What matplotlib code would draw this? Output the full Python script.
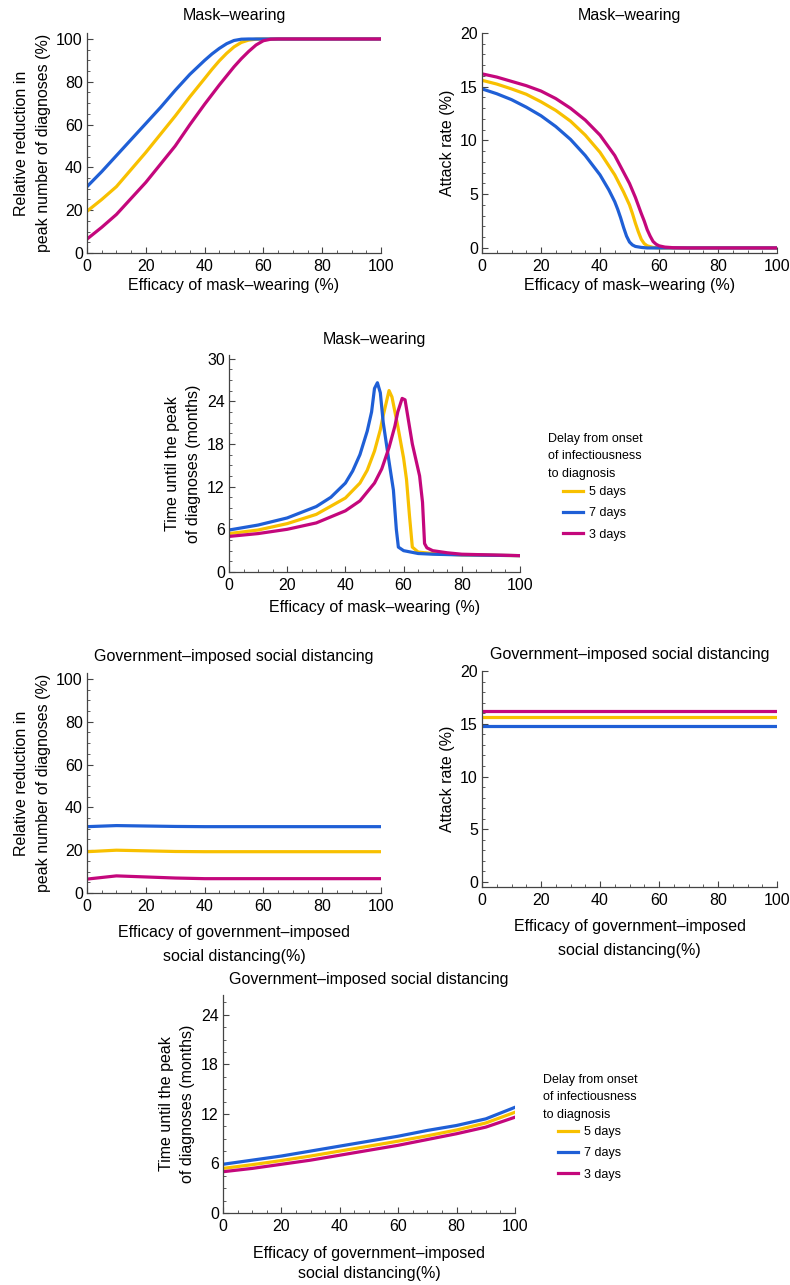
import numpy as np
import matplotlib
matplotlib.use("Agg")
import matplotlib.pyplot as plt
from matplotlib.ticker import MultipleLocator
from matplotlib.lines import Line2D

plt.rcParams['font.family'] = ['Liberation Sans', 'DejaVu Sans']

# colours for the three diagnosis delays
c5, c7, c3 = "#F8C000", "#1F5FD6", "#C4077C"

# mask-wearing: relative reduction in peak number of diagnoses (%)
red_x7 = [0, 5, 10, 15, 20, 25, 30, 35, 40, 42.5, 45, 47.5, 50, 52.5, 55, 100]
red_y7 = [31, 38, 45.5, 53, 60.5, 68, 76, 83.5, 90, 93, 95.6, 97.8, 99.3, 99.9, 100, 100]
red_x5 = [0, 5, 10, 15, 20, 25, 30, 35, 40, 42.5, 45, 47.5, 50, 52.5, 55, 57.5, 60, 100]
red_y5 = [19.5, 25, 31, 39, 47, 55.5, 64, 73, 81.5, 85.8, 89.8, 93.3, 96.3, 98.4, 99.5, 99.9, 100, 100]
red_x3 = [0, 5, 10, 15, 20, 25, 30, 35, 40, 45, 50, 52.5, 55, 57.5, 60, 62.5, 65, 100]
red_y3 = [6.5, 12, 18, 25.5, 33, 41.5, 50, 60, 69.5, 78.5, 87, 90.8, 94.2, 97.2, 99.2, 99.9, 100, 100]

# mask-wearing: attack rate (%)
att_x7 = [0, 5, 10, 15, 20, 25, 30, 35, 40, 43, 45, 46, 47, 48, 49, 50, 51, 52, 54, 56, 100]
att_y7 = [14.8, 14.35, 13.8, 13.1, 12.3, 11.3, 10.1, 8.6, 6.8, 5.4, 4.3, 3.6, 2.8, 1.9, 1.1,
          0.55, 0.28, 0.14, 0.05, 0, 0]
att_x5 = [0, 5, 10, 15, 20, 25, 30, 35, 40, 45, 48, 50, 51, 52, 53, 54, 55, 56, 58, 60, 100]
att_y5 = [15.6, 15.25, 14.8, 14.3, 13.6, 12.8, 11.8, 10.5, 8.9, 6.8, 5.2, 4.0, 3.2, 2.3, 1.5,
          0.8, 0.4, 0.2, 0.05, 0, 0]
att_x3 = [0, 5, 10, 15, 20, 25, 30, 35, 40, 45, 50, 52, 54, 55, 56, 57, 58, 59, 60, 62, 65, 70, 100]
att_y3 = [16.2, 15.9, 15.5, 15.1, 14.6, 13.9, 13.0, 11.9, 10.5, 8.6, 6.0, 4.7, 3.2, 2.5, 1.7,
          1.1, 0.6, 0.35, 0.2, 0.08, 0.02, 0, 0]

# mask-wearing: time until the peak of diagnoses (months)
tp_x7 = [0, 10, 20, 30, 35, 40, 42.5, 45, 47.5, 49, 50, 51, 52, 53, 55, 56.5, 57.5, 58.2, 60, 65, 70, 80, 100]
tp_y7 = [5.9, 6.6, 7.6, 9.2, 10.5, 12.5, 14.2, 16.5, 19.8, 22.5, 25.8, 26.6, 25.2, 21, 15.5, 11.5,
         6, 3.5, 3.0, 2.6, 2.5, 2.4, 2.3]
tp_x5 = [0, 10, 20, 30, 40, 45, 47.5, 50, 52, 53, 55, 56, 58, 60, 61, 62, 63, 65, 70, 80, 100]
tp_y5 = [5.4, 5.9, 6.8, 8.1, 10.4, 12.5, 14.3, 17, 20, 22, 25.5, 24.6, 20.5, 16, 13, 8, 3.5,
         2.8, 2.6, 2.4, 2.3]
tp_x3 = [0, 10, 20, 30, 40, 45, 50, 52.5, 55, 57, 58, 59.5, 60.5, 63, 65.5, 66.5, 67.2, 68, 70, 75, 80, 100]
tp_y3 = [5.0, 5.4, 6.0, 6.9, 8.6, 10.0, 12.5, 14.5, 17.5, 20.5, 22.5, 24.4, 24.2, 18, 13.5, 9.8,
         4, 3.4, 3.0, 2.7, 2.5, 2.3]

# government-imposed social distancing
sd_x = [0, 10, 20, 30, 40, 50, 60, 70, 80, 90, 100]
sd_red7 = [31, 31.5, 31.3, 31.1, 31, 31, 31, 31, 31, 31, 31]
sd_red5 = [19.3, 20, 19.7, 19.4, 19.3, 19.3, 19.3, 19.3, 19.3, 19.3, 19.3]
sd_red3 = [6.5, 8, 7.5, 7, 6.7, 6.7, 6.7, 6.7, 6.7, 6.7, 6.7]
sd_att7 = [14.8] * 11
sd_att5 = [15.6] * 11
sd_att3 = [16.2] * 11
sd_tp7 = [5.9, 6.4, 6.9, 7.5, 8.1, 8.7, 9.3, 10.0, 10.6, 11.4, 12.8]
sd_tp5 = [5.4, 5.85, 6.35, 6.9, 7.5, 8.1, 8.7, 9.35, 10.05, 10.9, 12.2]
sd_tp3 = [5.0, 5.4, 5.9, 6.4, 7.0, 7.6, 8.2, 8.9, 9.6, 10.4, 11.6]

legend_labels = ["5 days", "7 days", "3 days"]
legend_title = "Delay from onset\nof infectiousness\nto diagnosis"

W, H = 790, 1285
fig = plt.figure(figsize=(W / 100, H / 100), dpi=100)
fs = 11.5


def make_ax(left, right, bottom, top):
    ax = fig.add_axes([left / W, 1 - bottom / H, (right - left) / W, (bottom - top) / H])
    for s in ("top", "right"):
        ax.spines[s].set_visible(False)
    for s in ("left", "bottom"):
        ax.spines[s].set_color("#444444")
        ax.spines[s].set_linewidth(0.9)
    ax.tick_params(which="both", direction="in", colors="#444444", labelcolor="black",
                   labelsize=fs)
    ax.tick_params(axis="x", pad=4.5)
    ax.tick_params(axis="y", pad=3)
    ax.tick_params(which="major", length=4, width=0.8)
    ax.tick_params(which="minor", length=2, width=0.6)
    ax.set_xlim(0, 100)
    ax.xaxis.set_major_locator(MultipleLocator(20))
    ax.xaxis.set_minor_locator(MultipleLocator(5))
    return ax


lw = 2.3
mask_xlabel = "Efficacy of mask\u2013wearing (%)"
gov_xlabel = "Efficacy of government\u2013imposed\nsocial distancing(%)"
red_ylabel = "Relative reduction in\npeak number of diagnoses (%)"
tp_ylabel = "Time until the peak\nof diagnoses (months)"

# --- mask-wearing: relative reduction
ax1 = make_ax(87, 381, 253, 33)
ax1.plot(red_x5, red_y5, color=c5, lw=lw)
ax1.plot(red_x7, red_y7, color=c7, lw=lw)
ax1.plot(red_x3, red_y3, color=c3, lw=lw)
ax1.set_ylim(0, 102.8)
ax1.yaxis.set_major_locator(MultipleLocator(20))
ax1.yaxis.set_minor_locator(MultipleLocator(5))
ax1.set_title("Mask\u2013wearing", fontsize=fs, pad=9)
ax1.set_xlabel(mask_xlabel, fontsize=fs, labelpad=3)
ax1.set_ylabel(red_ylabel, fontsize=fs, labelpad=4, linespacing=1.55)

# --- mask-wearing: attack rate
ax2 = make_ax(482, 777, 253, 33)
ax2.plot(att_x5, att_y5, color=c5, lw=lw)
ax2.plot(att_x7, att_y7, color=c7, lw=lw)
ax2.plot(att_x3, att_y3, color=c3, lw=lw)
ax2.set_ylim(-0.47, 20)
ax2.yaxis.set_major_locator(MultipleLocator(5))
ax2.yaxis.set_minor_locator(MultipleLocator(1))
ax2.set_title("Mask\u2013wearing", fontsize=fs, pad=9)
ax2.set_xlabel(mask_xlabel, fontsize=fs, labelpad=3)
ax2.set_ylabel("Attack rate (%)", fontsize=fs, labelpad=4)

# --- mask-wearing: time until peak
ax3 = make_ax(229, 520, 572, 355)
ax3.plot(tp_x5, tp_y5, color=c5, lw=lw)
ax3.plot(tp_x7, tp_y7, color=c7, lw=lw)
ax3.plot(tp_x3, tp_y3, color=c3, lw=lw)
ax3.set_ylim(0, 30.5)
ax3.yaxis.set_major_locator(MultipleLocator(6))
ax3.yaxis.set_minor_locator(MultipleLocator(1.5))
ax3.set_title("Mask\u2013wearing", fontsize=fs, pad=8)
ax3.set_xlabel(mask_xlabel, fontsize=fs, labelpad=5)
ax3.set_ylabel(tp_ylabel, fontsize=fs, labelpad=4, linespacing=1.55)

# --- social distancing: relative reduction
ax4 = make_ax(87, 381, 893, 673)
ax4.plot(sd_x, sd_red5, color=c5, lw=lw)
ax4.plot(sd_x, sd_red7, color=c7, lw=lw)
ax4.plot(sd_x, sd_red3, color=c3, lw=lw)
ax4.set_ylim(0, 102.8)
ax4.yaxis.set_major_locator(MultipleLocator(20))
ax4.yaxis.set_minor_locator(MultipleLocator(5))
ax4.set_title("Government\u2013imposed social distancing", fontsize=fs, pad=9)
ax4.set_xlabel(gov_xlabel, fontsize=fs, labelpad=8, linespacing=1.7)
ax4.set_ylabel(red_ylabel, fontsize=fs, labelpad=4, linespacing=1.55)

# --- social distancing: attack rate
ax5 = make_ax(482, 777, 887, 671)
ax5.plot(sd_x, sd_att5, color=c5, lw=lw)
ax5.plot(sd_x, sd_att7, color=c7, lw=lw)
ax5.plot(sd_x, sd_att3, color=c3, lw=lw)
ax5.set_ylim(-0.47, 20)
ax5.yaxis.set_major_locator(MultipleLocator(5))
ax5.yaxis.set_minor_locator(MultipleLocator(1))
ax5.set_title("Government\u2013imposed social distancing", fontsize=fs, pad=9)
ax5.set_xlabel(gov_xlabel, fontsize=fs, labelpad=8, linespacing=1.7)
ax5.set_ylabel("Attack rate (%)", fontsize=fs, labelpad=4)

# --- social distancing: time until peak
ax6 = make_ax(223, 515, 1213, 995)
ax6.plot(sd_x, sd_tp5, color=c5, lw=lw)
ax6.plot(sd_x, sd_tp7, color=c7, lw=lw)
ax6.plot(sd_x, sd_tp3, color=c3, lw=lw)
ax6.set_ylim(0, 26.4)
ax6.yaxis.set_major_locator(MultipleLocator(6))
ax6.yaxis.set_minor_locator(MultipleLocator(1.5))
ax6.set_title("Government\u2013imposed social distancing", fontsize=fs, pad=8)
ax6.set_xlabel(gov_xlabel, fontsize=fs, labelpad=8.5, linespacing=1.45)
ax6.set_ylabel(tp_ylabel, fontsize=fs, labelpad=4, linespacing=1.55)

# legends next to the time-until-peak panels
handles = [Line2D([], [], color=c, lw=lw) for c in (c5, c7, c3)]
for tx, ty, lx, ly in [(548, 433, 563, 486), (543, 1074, 558, 1126)]:
    fig.text(tx / W, 1 - ty / H, legend_title, fontsize=9, va="top", ha="left",
             linespacing=1.6)
    fig.legend(handles, legend_labels, loc="upper left",
               bbox_to_anchor=(lx / W, 1 - ly / H), frameon=False, fontsize=9,
               handlelength=1.6, handletextpad=0.5, labelspacing=0.75,
               borderpad=0, borderaxespad=0)

fig.savefig("out.png", dpi=100)
